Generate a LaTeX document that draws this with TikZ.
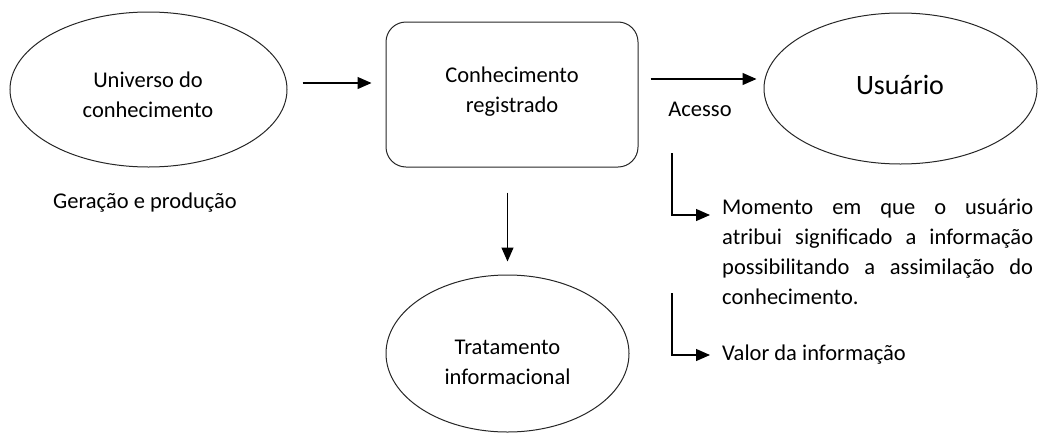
\documentclass[tikz,border=0pt]{standalone}
\usepackage{fontspec}
\setmainfont{Carlito}
\usetikzlibrary{arrows.meta,shapes.geometric,calc}
\begin{document}
\begin{tikzpicture}[x=1pt,y=-1pt,
  outline/.style={draw=black!85, line width=1pt},
  ell/.style={outline, ellipse, inner sep=0pt},
  rbox/.style={outline, rectangle, rounded corners=20pt, inner sep=0pt},
  arr/.style={-{Triangle[length=14pt,width=12pt]}, line width=1.2pt},
  txt/.style={font=\fontsize{22.5}{30}\selectfont, align=center, inner sep=0pt},
  bigtxt/.style={font=\fontsize{28}{34}\selectfont, inner sep=0pt}]
\useasboundingbox (0,0) rectangle (1043,434);

% shapes
\node[ell, minimum width=277pt, minimum height=155pt] (univ) at (148.5,89.5) {};
\node[rbox, minimum width=252pt, minimum height=145pt] (box) at (512,94.5) {};
\node[ell, minimum width=273pt, minimum height=151pt] (usu) at (900.5,88.5) {};
\node[ell, minimum width=243pt, minimum height=157pt] (trat) at (507.5,353.5) {};

% texts
\node[txt] (univt) at (148,95) {Universo do\\conhecimento};
\node[txt] (boxt) at (512,92) {Conhecimento\\registrado};
\node[bigtxt] (usut) at (900,85) {Usuário};
\node[txt] (tratt) at (507.5,362) {Tratamento\\informacional};
\node[txt] (ger) at (145,203) {Geração e produção};
\node[txt] (acc) at (700,109) {Acesso};
\node[txt, anchor=north west, text width=311pt, align=justify] (desc) at (722,199)
  {Momento em que o usuário\linebreak atribui significado a informação\linebreak possibilitando a assimilação do\linebreak conhecimento.};
\node[txt, anchor=west] (valor) at (722,355) {Valor da informação};

% connectors
\draw[arr, shorten <=15pt, shorten >=14pt]
  ([yshift=6.5pt]univ.east) -- ([yshift=6.5pt]univ.east -| box.west);
\draw[arr, shorten <=12pt, shorten >=7pt]
  ([yshift=9.5pt]usu.west -| box.east) -- ([yshift=9.5pt]usu.west);
\draw[arr, shorten <=25pt, shorten >=13pt]
  (box.south -| trat.north) -- (trat.north);

\coordinate (b1) at (672,153);
\coordinate (b2) at (672,293);
\draw[arr] (b1) |- ([shift={(-12pt,-16pt)}]desc.north west);
\draw[arr] (b2) |- ([xshift=-12pt]valor.west);
\end{tikzpicture}
\end{document}
